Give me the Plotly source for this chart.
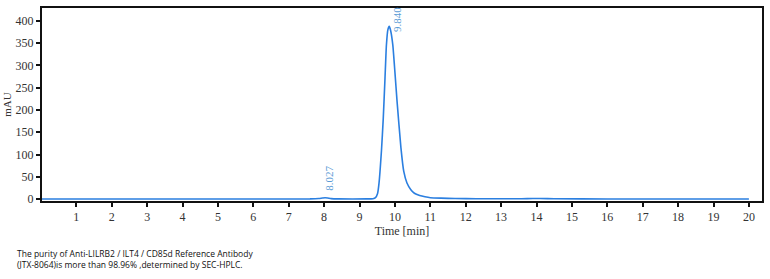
import plotly.graph_objects as go

# Chromatogram points (time in min, signal in mAU)
time_min = [0.0, 3.0, 7.6, 7.85, 7.95, 8.027, 8.1, 8.2, 8.4, 9.2, 9.38, 9.45, 9.51, 9.55,
            9.62, 9.67, 9.72, 9.76, 9.80, 9.84, 9.88, 9.94, 10.0, 10.06, 10.17, 10.25,
            10.34, 10.45, 10.55, 10.7, 10.85, 11.0, 11.3, 11.7, 12.3, 13.5, 13.9, 14.1,
            14.5, 16.0, 20.0]
signal_mau = [0.0, 0.0, 0.3, 1.2, 2.2, 2.8, 2.2, 1.0, 0.4, 0.3, 0.8, 3.0, 12.6, 35.0,
              109.0, 180.0, 272.0, 346.0, 380.0, 388.0, 378.0, 346.0, 285.0, 220.0, 115.0, 62.0,
              36.0, 21.0, 13.0, 8.0, 5.0, 3.0, 2.0, 1.2, 0.8, 0.5, 1.3, 1.3,
              0.5, 0.2, 0.0]

peak_labels = ["8.027", "9.840"]
label_x = [8.13, 10.06]
label_y = [47, 402]

x_ticks = list(range(1, 21))
y_ticks = [0, 50, 100, 150, 200, 250, 300, 350, 400]

caption_lines = [
    "The purity of Anti-LILRB2 / ILT4 / CD85d Reference Antibody",
    "(JTX-8064)is more than 98.96% ,determined by SEC-HPLC.",
]

line_color = "#2b7fe0"
label_color = "#5b9bd5"
serif = "Liberation Serif"

fig = go.Figure()
fig.add_trace(go.Scatter(
    x=time_min, y=signal_mau, mode="lines",
    line=dict(color=line_color, width=1.6, shape="spline", smoothing=0.5),
    hoverinfo="skip", showlegend=False,
))

for lx, ly, txt in zip(label_x, label_y, peak_labels):
    fig.add_annotation(
        x=lx, y=ly, text=txt, showarrow=False, textangle=-90,
        xanchor="center", yanchor="middle",
        font=dict(family=serif, size=11, color=label_color),
    )

fig.add_annotation(
    xref="paper", yref="paper", x=-0.0, y=0, xanchor="left", yanchor="top",
    xshift=-27, yshift=-45, align="left", showarrow=False,
    text="<br>".join(caption_lines),
    font=dict(family="Open Sans", size=8.5, color="#111111"),
)

fig.update_layout(
    width=770, height=279,
    margin=dict(l=42, r=7, t=6, b=78),
    paper_bgcolor="white", plot_bgcolor="white",
    font=dict(family=serif, size=12, color="#222222"),
    xaxis=dict(
        range=[0.03, 20.37], tickvals=x_ticks, ticktext=[str(v) for v in x_ticks],
        showgrid=False, zeroline=False, showline=True, linecolor="#111111", linewidth=2,
        mirror=True, ticks="outside", ticklen=4, tickwidth=1.5, tickcolor="#111111",
        tickfont=dict(family=serif, size=12, color="#333333"),
        title=dict(text="Time [min]", font=dict(family=serif, size=12, color="#333333"),
                   standoff=1),
    ),
    yaxis=dict(
        range=[-4.4, 429], tickvals=y_ticks, ticktext=[str(v) for v in y_ticks],
        showgrid=False, zeroline=False, showline=True, linecolor="#111111", linewidth=2,
        mirror=True, ticks="outside", ticklen=4, tickwidth=1.5, tickcolor="#111111",
        tickfont=dict(family=serif, size=12, color="#333333"),
        title=dict(text="mAU", font=dict(family=serif, size=11, color="#333333"),
                   standoff=2),
    ),
)

fig.write_html("out.html")
